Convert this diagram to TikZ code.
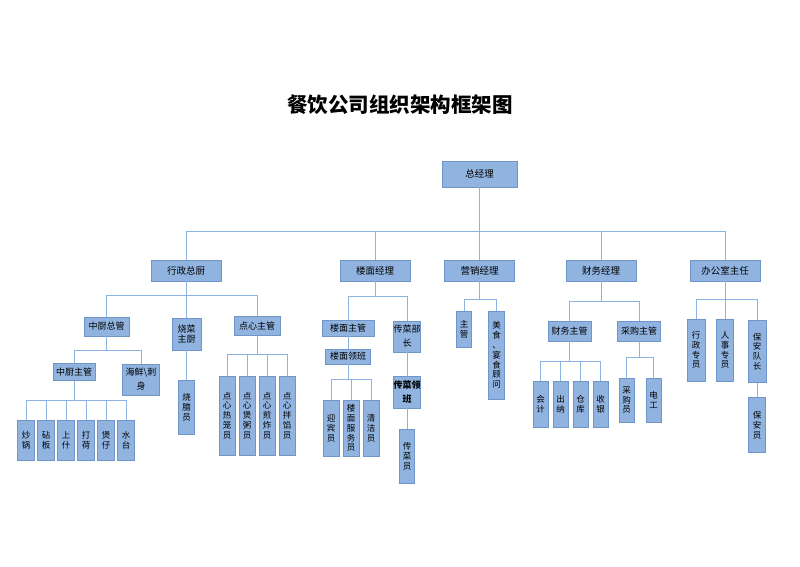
\documentclass[tikz,border=0pt]{standalone}
\usepackage{fontspec}
\setmainfont{Noto Sans CJK SC}
\usepackage{xcolor}
\usepackage{tikz}
\usetikzlibrary{positioning, calc}
\definecolor{boxfill}{HTML}{90B3E0}
\definecolor{boxline}{HTML}{6F95CB}
\definecolor{linkblue}{HTML}{8DB3E2}

\tikzset{
  box/.style={draw=boxline, fill=boxfill, line width=0.8pt, inner sep=0pt,
              align=center, font=\fontsize{9}{10.5}\selectfont},
  topbox/.style={box, minimum width=70pt, minimum height=21pt, font=\fontsize{9.5}{11}\selectfont},
  vbox/.style={box, minimum width=16pt, font=\fontsize{8.5}{9.8}\selectfont},
  link/.style={draw=linkblue, line width=0.9pt},
}

\begin{document}
\begin{tikzpicture}[x=1pt, y=-1pt]
  \fill[white] (0,0) rectangle (800,566);
  \useasboundingbox (0,0) rectangle (800,566);

  \node[font=\bfseries\fontsize{20.5}{24}\selectfont] (title) at (400,105) {餐饮公司组织架构框架图};

  % top levels
  \node[box, minimum width=75pt, minimum height=26pt, font=\fontsize{9.5}{11}\selectfont] (zjl) at (479.5,174) {总经理};
  \node[topbox] (xzzc) at (186,270.5) {行政总厨};
  \node[topbox] (lmjl) at (375,270.5) {楼面经理};
  \node[topbox] (yxjl) at (479.5,270.5) {营销经理};
  \node[topbox] (cwjl) at (601,270.5) {财务经理};
  \node[topbox] (bgszr) at (725,270.5) {办公室主任};

  \coordinate (topbus) at (479.5,231);
  \draw[link] (zjl.south) -- (topbus);
  \foreach \n in {xzzc,lmjl,yxjl,cwjl,bgszr}
    \draw[link] (topbus) -| (\n.north);

  % kitchen
  \node[box, minimum width=45pt, minimum height=19pt] (zczg) at (106.5,326.5) {中厨总管};
  \node[box, minimum width=29pt, minimum height=32pt] (sczc) at (186.5,334) {烧菜\\主厨};
  \node[box, minimum width=46pt, minimum height=19pt] (dxzg) at (257,326) {点心主管};
  \coordinate (xzbus) at (186,295);
  \draw[link] (xzzc.south) -- (xzbus);
  \foreach \n in {zczg,sczc,dxzg}
    \draw[link] (xzbus) -| (\n.north);

  \node[box, minimum width=42pt, minimum height=17pt] (zczg2) at (74,372) {中厨主管};
  \node[box, minimum width=37pt, minimum height=31pt, text width=35pt, font=\fontsize{9}{14}\selectfont] (hxcs) at (141,379.5) {海鲜\textbackslash 刺\\身};
  \coordinate (zcbus) at (106.5,350);
  \draw[link] (zczg.south) -- (zcbus);
  \draw[link] (zcbus) -| (zczg2.north);
  \draw[link] (zcbus) -| (hxcs.north);

  \coordinate (zc2bus) at (74,400);
  \draw[link] (zczg2.south) -- (zc2bus);
  \foreach \t [count=\i] in {{炒\\锅},{砧\\板},{上\\什},{打\\荷},{煲\\仔},{水\\台}} {
    \node[vbox, minimum width=17pt, minimum height=40pt] (cs\i) at ({6+20*\i},440) {\t};
    \draw[link] (zc2bus) -| (cs\i.north);
  }

  \node[vbox, minimum height=54pt] (sly) at (186.5,407) {烧\\腊\\员};
  \draw[link] (sczc.south) -- (sly.north);

  \coordinate (dxbus) at (257,354);
  \draw[link] (dxzg.south) -- (dxbus);
  \foreach \t [count=\i] in {{点\\心\\热\\笼\\员},{点\\心\\煲\\粥\\员},{点\\心\\煎\\炸\\员},{点\\心\\拌\\馅\\员}} {
    \node[vbox, minimum height=79pt] (dx\i) at ({207+20*\i},415.5) {\t};
    \draw[link] (dxbus) -| (dx\i.north);
  }

  % floor
  \node[box, minimum width=52pt, minimum height=16pt] (lmzg) at (348,328) {楼面主管};
  \node[box, minimum width=27pt, minimum height=31pt, font=\fontsize{9}{14}\selectfont] (cbbz) at (407,336.5) {传菜部\\长};
  \coordinate (lmbus) at (375,296);
  \draw[link] (lmjl.south) -- (lmbus);
  \draw[link] (lmbus) -| (lmzg.north);
  \draw[link] (lmbus) -| (cbbz.north);

  \node[box, minimum width=45pt, minimum height=15pt] (lmlb) at (348,356.5) {楼面领班};
  \draw[link] (lmzg.south) -- (lmlb.north);
  \coordinate (lbbus) at (348,379);
  \draw[link] (lmlb.south) -- (lbbus);
  \foreach \t [count=\i] in {{迎\\宾\\员},{楼\\面\\服\\务\\员},{清\\洁\\员}} {
    \node[vbox, minimum height=56pt] (lm\i) at ({311+20*\i},428) {\t};
    \draw[link] (lbbus) -| (lm\i.north);
  }

  \node[box, minimum width=27pt, minimum height=32pt, font=\bfseries\fontsize{9}{14}\selectfont] (cclb) at (407,392) {传菜领\\班};
  \draw[link] (cbbz.south) -- (cclb.north);
  \node[vbox, minimum width=15pt, minimum height=54pt] (ccy) at (407,456) {传\\菜\\员};
  \draw[link] (cclb.south) -- (ccy.north);

  % sales
  \coordinate (yxbus) at (479.5,299);
  \draw[link] (yxjl.south) -- (yxbus);
  \node[vbox, minimum width=15pt, minimum height=36pt] (zg) at (464,329) {主\\管};
  \node[vbox, minimum height=88pt] (msgw) at (496.5,355) {美\\食\\、\\宴\\食\\顾\\问};
  \draw[link] (yxbus) -| (zg.north);
  \draw[link] (yxbus) -| (msgw.north);

  % finance
  \node[box, minimum width=43pt, minimum height=20pt] (cwzg) at (569.5,331) {财务主管};
  \node[box, minimum width=43pt, minimum height=20pt] (cgzg) at (639,331) {采购主管};
  \coordinate (cwbus) at (601,301);
  \draw[link] (cwjl.south) -- (cwbus);
  \draw[link] (cwbus) -| (cwzg.north);
  \draw[link] (cwbus) -| (cgzg.north);

  \coordinate (cwzgbus) at (569.5,361);
  \draw[link] (cwzg.south) -- (cwzgbus);
  \foreach \t [count=\i] in {{会\\计},{出\\纳},{仓\\库},{收\\银}} {
    \node[vbox, minimum width=15pt, minimum height=46pt] (cw\i) at ({520.5+20*\i},404) {\t};
    \draw[link] (cwzgbus) -| (cw\i.north);
  }

  \coordinate (cgbus) at (639,357);
  \draw[link] (cgzg.south) -- (cgbus);
  \node[vbox, minimum width=15pt, minimum height=44pt] (cgy) at (626.5,400) {采\\购\\员};
  \node[vbox, minimum width=15pt, minimum height=44pt] (dg) at (653.5,400) {电\\工};
  \draw[link] (cgbus) -| (cgy.north);
  \draw[link] (cgbus) -| (dg.north);

  % office
  \coordinate (bgbus) at (725,299);
  \draw[link] (bgszr.south) -- (bgbus);
  \node[vbox, minimum width=18pt, minimum height=62pt] (xzzy) at (696,350) {行\\政\\专\\员};
  \node[vbox, minimum width=17pt, minimum height=62pt] (rszy) at (725,350) {人\\事\\专\\员};
  \node[vbox, minimum width=18pt, minimum height=62pt] (badz) at (757,351.5) {保\\安\\队\\长};
  \foreach \n in {xzzy,rszy,badz}
    \draw[link] (bgbus) -| (\n.north);
  \node[vbox, minimum width=17pt, minimum height=55pt] (bay) at (757,425) {保\\安\\员};
  \draw[link] (badz.south) -- (bay.north);
\end{tikzpicture}
\end{document}
